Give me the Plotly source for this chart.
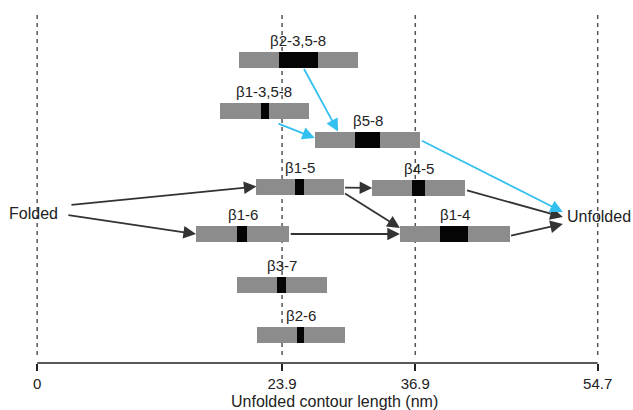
import plotly.graph_objects as go

# ---- data (nm) ----
names = ["β2-3,5-8", "β1-3,5-8", "β5-8", "β1-5", "β4-5", "β1-6", "β1-4", "β3-7", "β2-6"]
bar_start = [19.7, 17.8, 27.1, 21.4, 32.7, 15.5, 35.4, 19.5, 21.5]
bar_end = [31.3, 26.5, 37.4, 29.9, 41.8, 24.6, 46.1, 28.3, 30.0]
core_start = [23.6, 21.8, 31.0, 25.2, 36.6, 19.5, 39.3, 23.4, 25.4]
core_end = [27.4, 22.6, 33.5, 26.0, 37.8, 20.5, 42.0, 24.3, 26.0]
tick_vals = [0, 23.9, 36.9, 54.7]
tick_text = ["0", "23.9", "36.9", "54.7"]
x_title = "Unfolded contour length (nm)"

# ---- layout (diagram rows, px-like units) ----
row_y = [59.5, 111, 139.5, 186.5, 188, 234, 234, 285, 334.5]
BAR_H = 16
GRAY = "#8c8c8c"
DARK = "#333333"
BLUE = "#33c0f0"
FONT = "Liberation Sans"

idx = {n: i for i, n in enumerate(names)}

def left(n, dy=0):
    i = idx[n]; return (bar_start[i], row_y[i] + dy)

def right(n, dy=0):
    i = idx[n]; return (bar_end[i], row_y[i] + dy)

def top(n, frac):
    i = idx[n]; return (bar_start[i] + frac * (bar_end[i] - bar_start[i]), row_y[i] - BAR_H / 2)

def bottom(n, frac):
    i = idx[n]; return (bar_start[i] + frac * (bar_end[i] - bar_start[i]), row_y[i] + BAR_H / 2)

folded_x, folded_y = 2.2, 213
unfolded_x, unfolded_y = 51.5, 216

connections = [
    ((folded_x + 1.0, folded_y - 8), left("β1-5", 0), DARK),
    ((folded_x + 0.7, folded_y + 2), left("β1-6", 0), DARK),
    (right("β1-5", 1), left("β4-5", 0), DARK),
    (right("β1-5", 6), left("β1-4", -6), DARK),
    (right("β1-6", 0), left("β1-4", 0), DARK),
    (right("β4-5", 2), (unfolded_x - 0.2, unfolded_y + 1), DARK),
    (right("β1-4", 2), (unfolded_x - 0.2, unfolded_y + 8), DARK),
    (bottom("β2-3,5-8", 0.54), top("β5-8", 0.22), BLUE),
    ((23.4, 123), left("β5-8", -1.5), BLUE),
    (right("β5-8", 0.5), (unfolded_x - 0.2, unfolded_y - 4), BLUE),
]

fig = go.Figure()
fig.add_trace(go.Bar(
    y=row_y, x=[e - s for s, e in zip(bar_start, bar_end)], base=bar_start,
    orientation="h", width=BAR_H, marker=dict(color=GRAY, line=dict(width=0)),
    hoverinfo="skip"))
fig.add_trace(go.Bar(
    y=row_y, x=[e - s for s, e in zip(core_start, core_end)], base=core_start,
    orientation="h", width=BAR_H, marker=dict(color="#050505", line=dict(width=0)),
    hoverinfo="skip"))

shapes = []
for v in tick_vals:
    shapes.append(dict(type="line", xref="x", yref="y", x0=v, x1=v, y0=15, y1=357,
                       line=dict(color="#555555", width=1.5, dash="4px,4px"), layer="below"))
shapes.append(dict(type="line", xref="x", yref="paper", x0=0, x1=54.7, y0=0, y1=0,
                   line=dict(color="#222222", width=1.5)))

annotations = []
for i, n in enumerate(names):
    annotations.append(dict(x=(bar_start[i] + bar_end[i]) / 2, y=row_y[i] - BAR_H / 2,
                            xref="x", yref="y", text=n, showarrow=False,
                            yanchor="bottom", yshift=1,
                            font=dict(family=FONT, size=15, color="#222222")))
annotations.append(dict(x=folded_x, y=folded_y, xref="x", yref="y", text="Folded",
                        showarrow=False, xanchor="right",
                        font=dict(family=FONT, size=16, color="#222222")))
annotations.append(dict(x=unfolded_x, y=unfolded_y, xref="x", yref="y", text="Unfolded",
                        showarrow=False, xanchor="left",
                        font=dict(family=FONT, size=16, color="#222222")))
for (x0, y0), (x1, y1), col in connections:
    annotations.append(dict(x=x1, y=y1, ax=x0, ay=y0, xref="x", yref="y",
                            axref="x", ayref="y", text="", showarrow=True,
                            arrowhead=2, arrowsize=1.4, arrowwidth=1.8,
                            arrowcolor=col, standoff=0))
annotations.append(dict(x=29.0, y=-0.105, xref="x", yref="paper", text=x_title,
                        showarrow=False, yanchor="middle",
                        font=dict(family=FONT, size=16, color="#222222")))

px_per_nm = 10.247
x0_px = 37.17
fig.update_layout(
    width=633, height=410, margin=dict(l=0, r=0, t=0, b=47),
    paper_bgcolor="white", plot_bgcolor="white",
    barmode="overlay", showlegend=False, bargap=0,
    shapes=shapes, annotations=annotations,
    xaxis=dict(range=[-x0_px / px_per_nm, (633 - x0_px) / px_per_nm],
               tickvals=tick_vals, ticktext=tick_text, ticks="outside", ticklen=7,
               tickwidth=1.5, tickcolor="#222222", showgrid=False, zeroline=False,
               showline=False, tickfont=dict(family=FONT, size=15, color="#222222")),
    yaxis=dict(range=[363, 0], visible=False, showgrid=False, zeroline=False),
)
fig.write_html("out.html", config={"displayModeBar": False},
               post_script="document.body.style.margin='0px';")
